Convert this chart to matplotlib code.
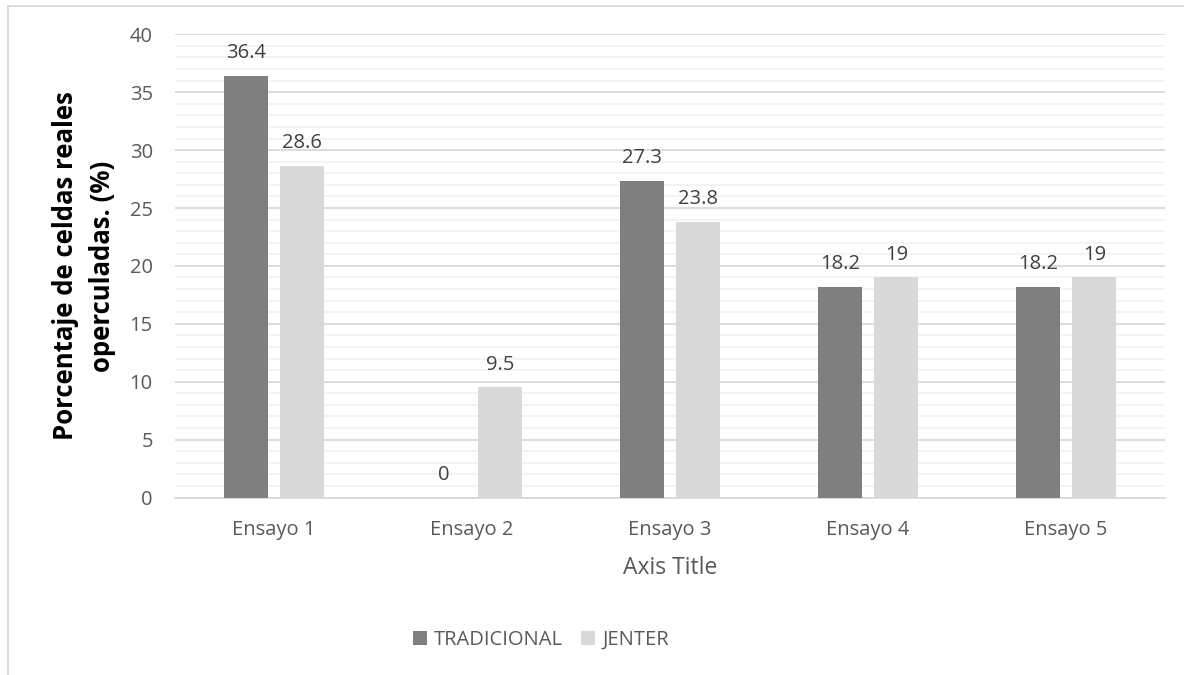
import matplotlib.pyplot as plt
from matplotlib.patches import Rectangle, Patch
import numpy as np

# Datos por ensayo
ensayos = ['Ensayo 1', 'Ensayo 2', 'Ensayo 3', 'Ensayo 4', 'Ensayo 5']
tradicional = [36.4, 0, 27.3, 18.2, 18.2]
jenter = [28.6, 9.5, 23.8, 19, 19]
etiquetas_trad = ['36.4', '0', '27.3', '18.2', '18.2']
etiquetas_jenter = ['28.6', '9.5', '23.8', '19', '19']

plt.rcParams['font.family'] = ['Open Sans', 'DejaVu Sans']

W, H = 1184, 675
fig = plt.figure(figsize=(W / 100, H / 100), dpi=100)
fig.patch.set_facecolor('white')

# Borde del área del gráfico
fig.add_artist(Rectangle((8 / W, -0.1), 1.2, 1 - 6 / H + 0.1, transform=fig.transFigure,
                         fill=False, edgecolor='#D9D9D9', linewidth=1.3))

ax = fig.add_axes([175 / W, 1 - 497.5 / H, 990 / W, (497.5 - 34.3) / H])

x = np.arange(len(ensayos))
ancho = 0.222
desp = 0.143
barras1 = ax.bar(x - desp, tradicional, ancho, color='#7F7F7F', label='TRADICIONAL', zorder=3)
barras2 = ax.bar(x + desp, jenter, ancho, color='#D9D9D9', label='JENTER', zorder=3)

for barras, etiquetas in [(barras1, etiquetas_trad), (barras2, etiquetas_jenter)]:
    for b, t in zip(barras, etiquetas):
        ax.annotate(t, (b.get_x() + b.get_width() / 2, b.get_height()), xytext=(0, 16.5),
                    textcoords='offset points', ha='center', va='center', fontsize=14.5,
                    color='#404040')

ax.set_xlim(-0.5, len(ensayos) - 0.5)
ax.set_ylim(0, 40)
ax.set_yticks(range(0, 41, 5))
ax.set_yticks(range(0, 41, 1), minor=True)
ax.grid(True, which='major', axis='y', color='#D9D9D9', linewidth=1.3, zorder=1)
ax.grid(True, which='minor', axis='y', color='#F2F2F2', linewidth=1.3, zorder=0)
ax.set_xticks(x)
ax.set_xticklabels(ensayos)
ax.tick_params(axis='both', which='both', length=0, labelsize=14.5, labelcolor='#595959')
ax.tick_params(axis='y', pad=16)
ax.tick_params(axis='x', pad=16)
for s in ['top', 'right', 'left']:
    ax.spines[s].set_visible(False)
ax.spines['bottom'].set_color('#D9D9D9')
ax.spines['bottom'].set_linewidth(1.3)

fig.text(84 / W, 1 - 266 / H, 'Porcentaje de celdas reales\noperculadas. (%)', rotation=90,
         ha='center', va='center', multialignment='center', fontsize=18.5, fontweight='bold',
         color='black', linespacing=1.5)
fig.text(670 / W, 1 - 568 / H, 'Axis Title', ha='center', va='center', fontsize=16.5,
         color='#595959')

manejadores = [Patch(facecolor='#7F7F7F', label='TRADICIONAL'),
               Patch(facecolor='#D9D9D9', label='JENTER')]
fig.legend(handles=manejadores, loc='center', bbox_to_anchor=(541 / W, 1 - 640 / H), ncol=2,
           frameon=False, fontsize=14.5, labelcolor='#595959', handlelength=0.7, handleheight=0.7,
           handletextpad=0.35, columnspacing=0.9)

plt.savefig('out.png', dpi=100)
